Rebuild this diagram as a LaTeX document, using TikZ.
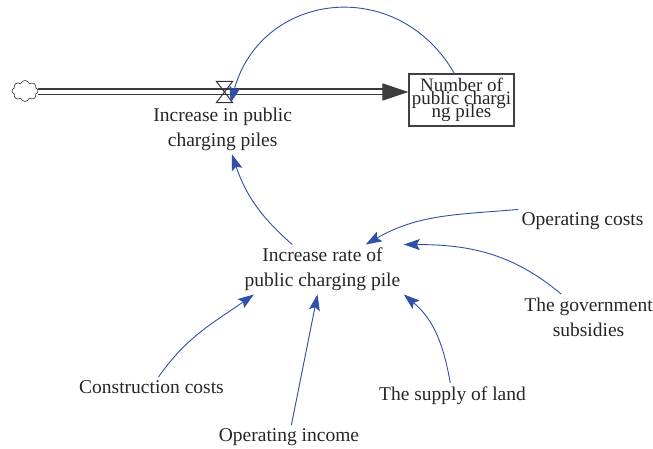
\documentclass[tikz,border=0pt]{standalone}
\usepackage{fontspec}
\setmainfont{Liberation Serif}
\usepackage{tikz}
\usetikzlibrary{arrows.meta,shapes.symbols,positioning}
\definecolor{linkblue}{RGB}{48,80,168}
\definecolor{pipegray}{RGB}{60,60,60}
\newcommand{\varfont}{\fontsize{19.5}{25}\selectfont}
\newcommand{\stockfont}{\fontsize{19}{13}\selectfont\lineskiplimit=-20pt}

\begin{document}
\begin{tikzpicture}[x=1pt,y=1pt,
            var/.style={align=center,font=\varfont,text=black!85,inner sep=3.3pt},
            link/.style={draw=linkblue,line width=0.9pt,-{Stealth[length=16pt,width=11pt,inset=3pt]}},
            pipe/.style={draw=pipegray,line width=1.3pt,double=white,double distance=4.4pt},
            pipetip/.style={draw=pipegray,line width=0.8pt,-{Triangle[length=26pt,width=17pt]}},
            stockbox/.style={draw=black!75,line width=1.1pt,minimum width=105pt,minimum height=52pt,
                inner sep=0pt,align=center,font=\stockfont,text=black!85}]
            \useasboundingbox (0,0) rectangle (653,449);

            \node[stockbox] (stock) at (461.5,349) {Number of\\public chargi\\ng piles};
            \node[cloud,cloud puffs=8,aspect=1.3,draw=black!80,line width=0.6pt,
                minimum width=26pt,minimum height=21pt,inner sep=0pt] (cloud) at (25,358) {};
            \node[minimum width=16pt,minimum height=21pt,inner sep=0pt] (valve) at (224.5,357) {};
            \node[var] (inc)    at (222.7,319.5) {Increase in public\\charging piles};
            \node[var] (rate)   at (322.5,179.5) {Increase rate of\\public charging pile};
            \node[var] (opcost) at (582.5,227.5) {Operating costs};
            \node[var] (gov)    at (588.5,132)   {The government\\subsidies};
            \node[var] (constr) at (151.5,62)    {Construction costs};
            \node[var] (opinc)  at (289,12)      {Operating income};
            \node[var] (land)   at (452.5,53.5)  {The supply of land};
            \coordinate (pipeend) at (stock.west |- valve);

            % Flow into the stock
            \draw[pipe] (cloud.east |- valve) -- ([xshift=-20pt]pipeend);
            \draw[pipetip] ([xshift=-22pt]pipeend) -- (pipeend);
            \draw[draw=black!80,line width=1pt] (valve.north west) -- (valve.north east)
                -- (valve.south west) -- (valve.south east) -- cycle;

            % Feedback to the flow
            \path (stock.105) edge[link,out=120,in=75,looseness=1.3] ([xshift=-2pt]valve.south east);
            \path (rate) edge[link,bend left=15] (inc);

            % Into the increase rate
            \path (opcost.north west) edge[link,out=185,in=30] (rate);
            \path (gov) edge[link,out=140,in=0] (rate.north east);
            \path (constr) edge[link,out=55,in=215] (rate.200);
            \path (opinc) edge[link] (rate);
            \path (land) edge[link,out=100,in=-40] (rate.south east);

        \end{tikzpicture}
\end{document}
